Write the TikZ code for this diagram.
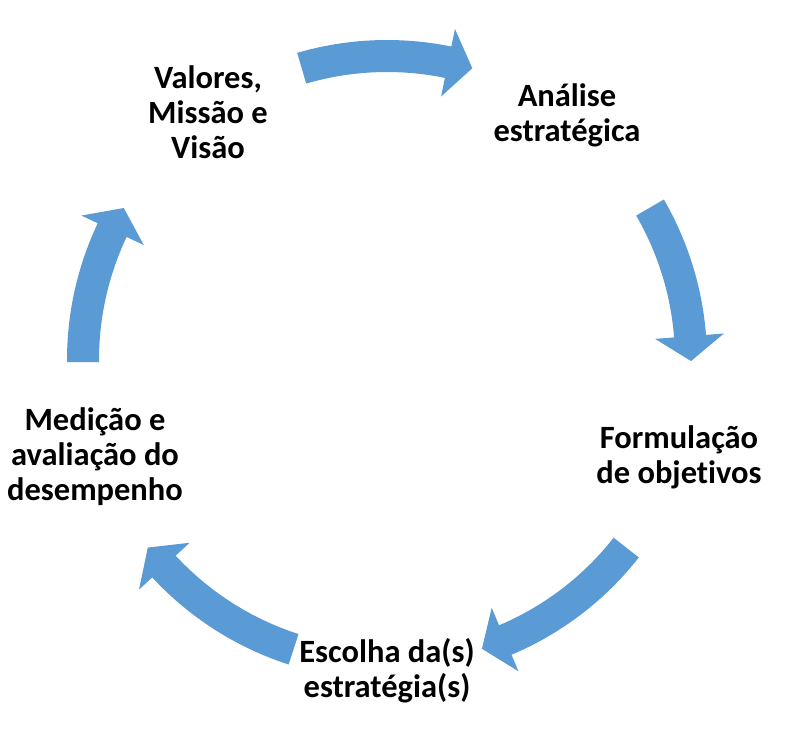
\documentclass[tikz,border=0pt]{standalone}
\usepackage{fontspec}
\setmainfont{Carlito}[Ligatures={NoCommon}]
\definecolor{arrowblue}{HTML}{5B9BD5}
\newcommand{\cyclearrow}[2]{%
  \pgfmathsetmacro{\hb}{#2+4.7}%
  \fill[arrowblue] (#1:320) arc[start angle=#1, end angle=\hb, radius=320]
    -- (\hb:338) -- (#2:304) -- (\hb:269) -- (\hb:288)
    arc[start angle=\hb, end angle=#1, radius=288] -- cycle;}
\begin{document}
\begin{tikzpicture}[x=1pt,y=1pt,
  lbl/.style={font=\fontsize{32.5}{35}\selectfont\bfseries, align=center, inner sep=0pt}]
\useasboundingbox (0,0) rectangle (786,742);
\begin{scope}[shift={(387,382)}]
  \cyclearrow{106.3}{73.7}
  \cyclearrow{30.1}{-0.2}
  \cyclearrow{-38.1}{-71.8}
  \cyclearrow{-107.9}{-141.9}
  \cyclearrow{180.4}{150}
\end{scope}
\node[lbl] (vmv) at (208,630) {Valores,\\Missão e\\Visão};
\node[lbl] (ae) at (567,627) {Análise\\estratégica};
\node[lbl] (fo) at (679,285) {Formulação\\de objetivos};
\node[lbl] (ee) at (387,71) {Escolha da(s)\\estratégia(s)};
\node[lbl] (mad) at (95,285) {Medição e\\avaliação do\\desempenho};
\end{tikzpicture}
\end{document}
